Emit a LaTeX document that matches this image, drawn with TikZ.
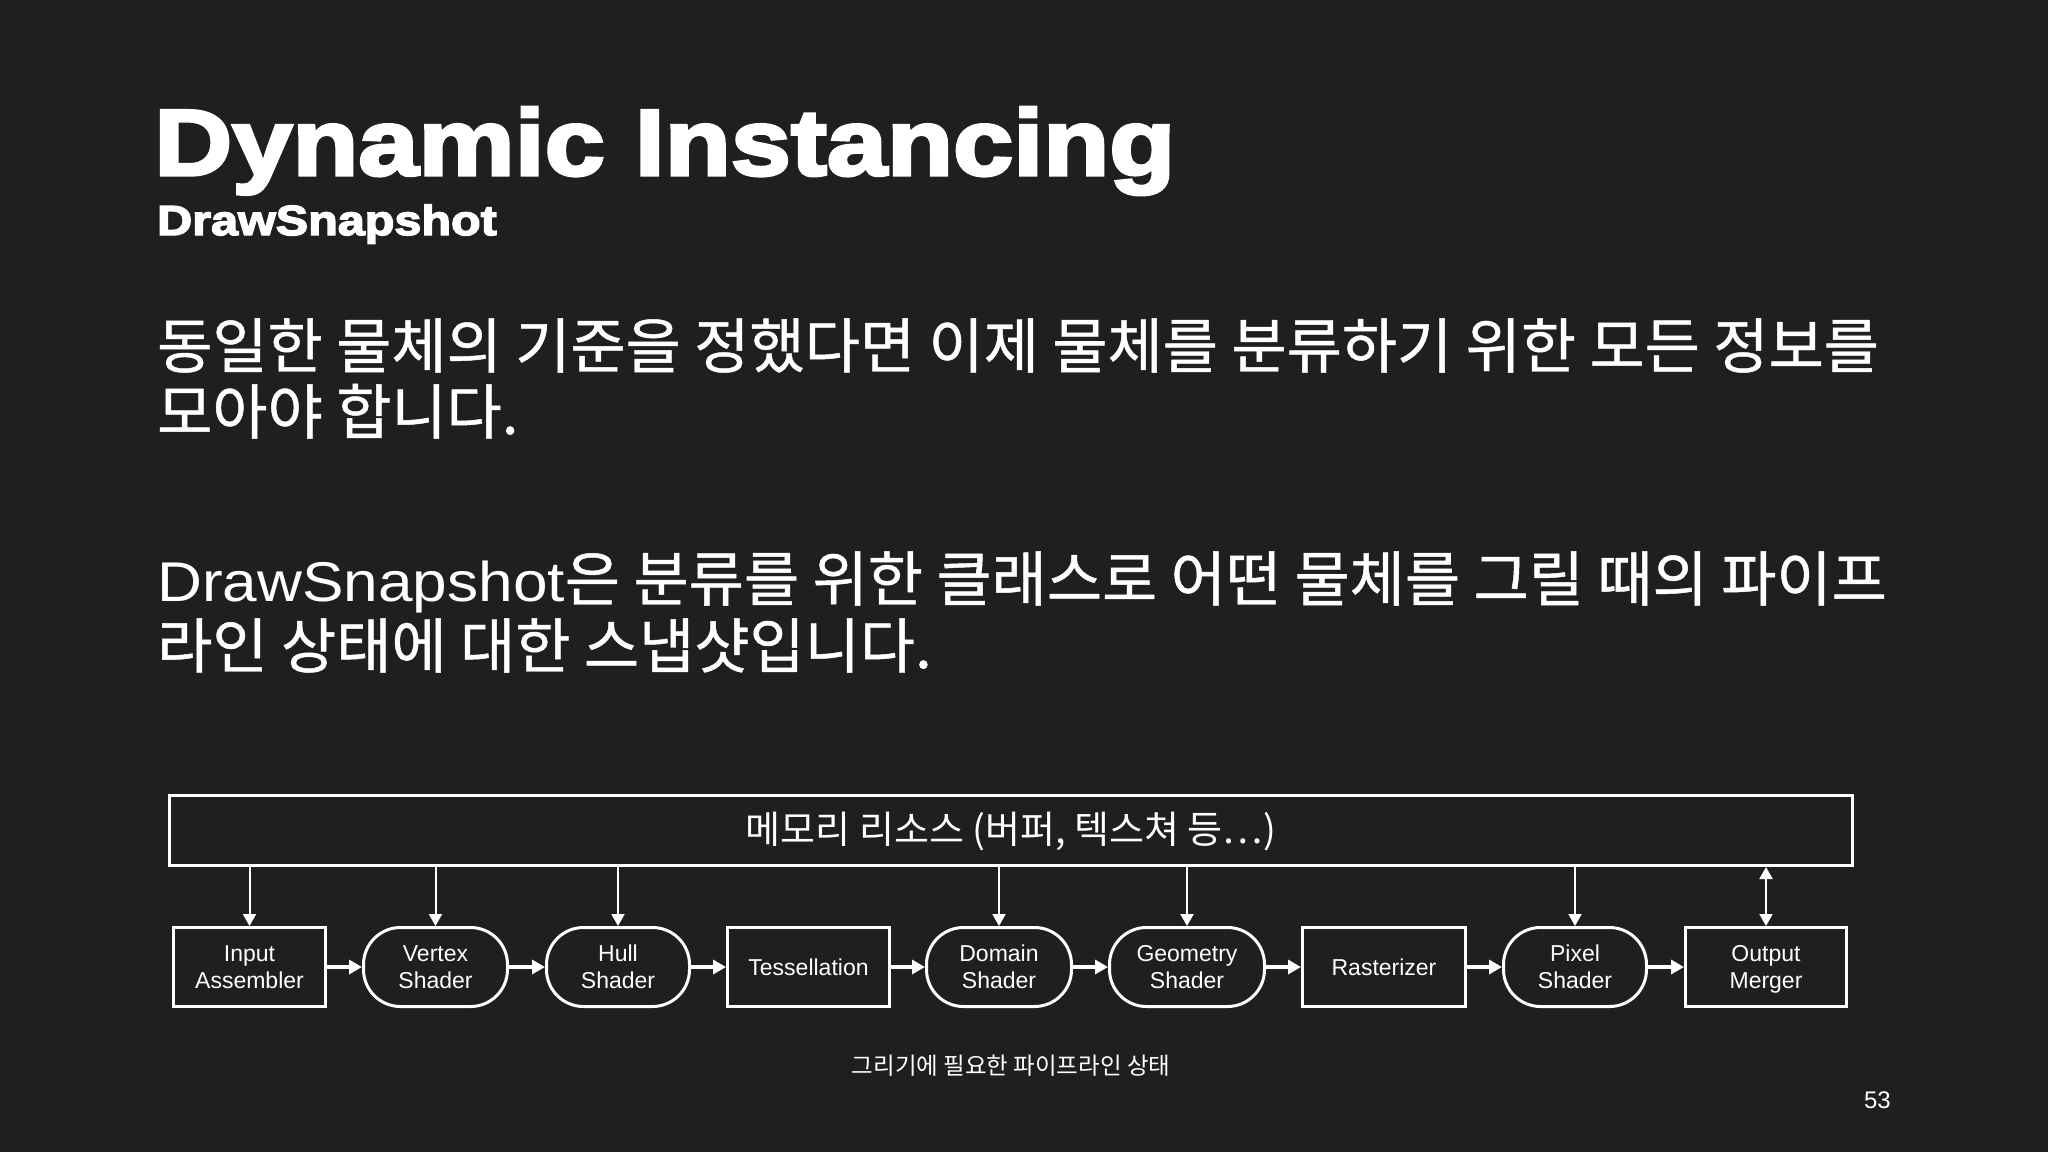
\documentclass[tikz,border=0pt]{standalone}
\usepackage{fontspec}
\usetikzlibrary{arrows.meta}
\setmainfont{Liberation Sans}
\newfontfamily\krfont[FakeBold=0.8]{Noto Sans CJK KR}
\newfontfamily\krsmall{Noto Sans CJK KR}
\newfontfamily\krlat[FakeStretch=1.11]{Liberation Sans}
\newfontfamily\ttlfont[FakeStretch=1.155,FakeBold=3.5]{Liberation Sans}
\newcommand\lblstrut{\rule[-3.2pt]{0pt}{23.2pt}}
\definecolor{bg}{RGB}{31,31,31}
\begin{document}
\begin{tikzpicture}[x=1pt,y=-1pt,
  every node/.style={text=white, inner sep=0pt},
  sqbox/.style={draw=white, line width=3pt, minimum height=79pt, align=center,
    font=\fontsize{23}{27}\selectfont},
  rndbox/.style={sqbox, rounded corners=37pt},
  flow/.style={draw=white, line width=4pt, -{Triangle[length=13pt,width=14pt]}},
  feed/.style={draw=white, line width=2pt, -{Triangle[length=12pt,width=13pt]}},
  feedboth/.style={draw=white, line width=2pt, {Triangle[length=12pt,width=13pt]}-{Triangle[length=12pt,width=13pt]}},
  body/.style={anchor=base west, font=\fontsize{60}{67}\krfont},
]
\fill[bg] (0,0) rectangle (2048,1152);
\useasboundingbox (0,0) rectangle (2048,1152);

% title
\node[anchor=base west, font=\fontsize{93.6}{100}\ttlfont\bfseries] (title) at (154,175) {Dynamic Instancing};
\node[anchor=base west, font=\fontsize{42}{48}\ttlfont\bfseries] (sub) at (157,235) {DrawSnapshot};

% paragraphs
\node[body] (p1a) at (157,368) {동일한 물체의 기준을 정했다면 이제 물체를 분류하기 위한 모든 정보를};
\node[body] (p1b) at (157,434) {모아야 합니다.};
\node[body] (p2a) at (157,601) {{\fontsize{56}{67}\krlat DrawSnapshot}은 분류를 위한 클래스로 어떤 물체를 그릴 때의 파이프};
\node[body] (p2b) at (157,668) {라인 상태에 대한 스냅샷입니다.};

% memory box
\node[draw=white, line width=3pt, minimum width=1683pt, minimum height=70pt] (mem) at (1011,830.5) {};
\node[font=\fontsize{38}{44}\krsmall] (memtxt) at (1011,831) {메모리 리소스 (버퍼, 텍스쳐 등…)};

% pipeline
\node[sqbox, minimum width=152pt] (IA) at (249.5,967) {\lblstrut Input\\\lblstrut Assembler};
\node[rndbox, minimum width=144pt] (VS) at (435.5,967) {\lblstrut Vertex\\\lblstrut Shader};
\node[rndbox, minimum width=143pt] (HS) at (618,967) {\lblstrut Hull\\\lblstrut Shader};
\node[sqbox, minimum width=162pt] (TS) at (808.5,967) {\lblstrut Tessellation};
\node[rndbox, minimum width=145pt] (DS) at (999,967) {\lblstrut Domain\\\lblstrut Shader};
\node[rndbox, minimum width=155pt] (GS) at (1187,967) {\lblstrut Geometry\\\lblstrut Shader};
\node[sqbox, minimum width=163pt] (RS) at (1384,967) {\lblstrut Rasterizer};
\node[rndbox, minimum width=143pt] (PS) at (1575,967) {\lblstrut Pixel\\\lblstrut Shader};
\node[sqbox, minimum width=161pt] (OM) at (1766,967) {\lblstrut Output\\\lblstrut Merger};

\draw[flow] (IA.east) -- (VS.west);
\draw[flow] (VS.east) -- (HS.west);
\draw[flow] (HS.east) -- (TS.west);
\draw[flow] (TS.east) -- (DS.west);
\draw[flow] (DS.east) -- (GS.west);
\draw[flow] (GS.east) -- (RS.west);
\draw[flow] (RS.east) -- (PS.west);
\draw[flow] (PS.east) -- (OM.west);

\draw[feed] (mem.south -| IA.north) -- (IA.north);
\draw[feed] (mem.south -| VS.north) -- (VS.north);
\draw[feed] (mem.south -| HS.north) -- (HS.north);
\draw[feed] (mem.south -| DS.north) -- (DS.north);
\draw[feed] (mem.south -| GS.north) -- (GS.north);
\draw[feed] (mem.south -| PS.north) -- (PS.north);
\draw[feedboth] (mem.south -| OM.north) -- (OM.north);

% caption and page number
\node[font=\fontsize{23.5}{28}\krsmall] (cap) at (1011,1066) {그리기에 필요한 파이프라인 상태};
\node[anchor=east, font=\fontsize{24}{28}\selectfont] (pnum) at (1891,1100) {53};
\end{tikzpicture}
\end{document}
